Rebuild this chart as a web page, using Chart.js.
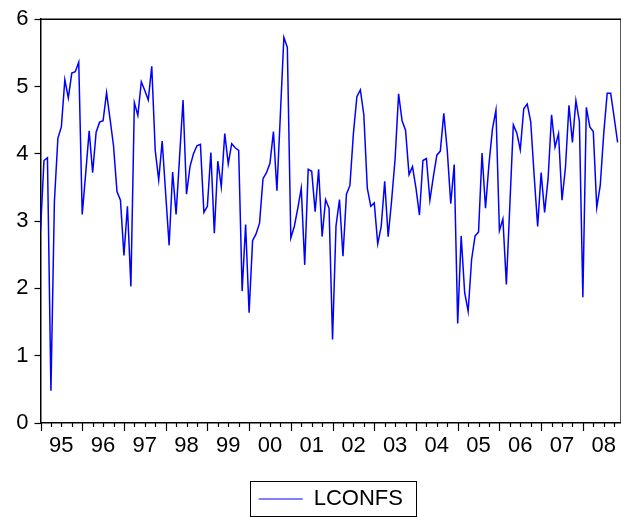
<!DOCTYPE html>
<html>
<head>
<meta charset="utf-8">
<script src="https://cdn.jsdelivr.net/npm/chart.js@4.4.0/dist/chart.umd.min.js"></script>
<style>
  html, body { margin: 0; padding: 0; overflow: hidden; background: #fff; }
  #wrap { width: 626px; height: 520px; }
</style>
</head>
<body>
<div id="wrap"><canvas id="chart" width="626" height="520"></canvas></div>
<script>
// monthly series, 1995M01 .. 2008M11
const yearLabels = ['95', '96', '97', '98', '99', '00', '01', '02', '03', '04', '05', '06', '07', '08'];
const yTicks = [0, 1, 2, 3, 4, 5, 6];
const seriesName = 'LCONFS';
const lconfs = [
  2.85, 3.90, 3.94, 0.48, 3.29, 4.23, 4.40, 5.10, 4.83, 5.20, 5.22, 5.36,
  3.10, 3.71, 4.34, 3.72, 4.32, 4.47, 4.49, 4.91, 4.52, 4.12, 3.44, 3.31,
  2.49, 3.22, 2.03, 4.76, 4.57, 5.07, 4.94, 4.80, 5.30, 4.05, 3.61, 4.19,
  3.41, 2.64, 3.73, 3.10, 3.95, 4.80, 3.40, 3.81, 4.00, 4.12, 4.14, 3.13,
  3.22, 4.02, 2.82, 3.89, 3.51, 4.30, 3.85, 4.15, 4.09, 4.05, 1.96, 2.95,
  1.64, 2.71, 2.81, 2.97, 3.63, 3.72, 3.86, 4.33, 3.45, 4.59, 5.73, 5.58,
  2.75, 2.92, 3.19, 3.49, 2.35, 3.77, 3.74, 3.14, 3.77, 2.77, 3.32, 3.19,
  1.24, 2.93, 3.32, 2.48, 3.40, 3.53, 4.30, 4.85, 4.95, 4.58, 3.49, 3.22,
  3.27, 2.66, 2.92, 3.59, 2.77, 3.31, 3.93, 4.89, 4.49, 4.35, 3.69, 3.81,
  3.49, 3.09, 3.90, 3.93, 3.31, 3.66, 3.98, 4.04, 4.60, 4.05, 3.26, 3.84,
  1.48, 2.78, 1.94, 1.66, 2.43, 2.78, 2.84, 4.01, 3.19, 3.85, 4.37, 4.65,
  2.86, 3.03, 2.06, 3.24, 4.43, 4.31, 4.06, 4.67, 4.74, 4.48, 3.67, 2.92,
  3.72, 3.13, 3.63, 4.58, 4.10, 4.30, 3.31, 3.80, 4.72, 4.17, 4.79, 4.48,
  1.87, 4.69, 4.40, 4.33, 3.20, 3.53, 4.30, 4.90, 4.90, 4.54, 4.17
];

const lastMonth = yearLabels.length * 12 - 1;
const font = { family: '"Liberation Sans", Arial, sans-serif', size: 22 };

// top/right frame, quarter ticks and the legend border
const framePlugin = {
  id: 'frame',
  afterDraw(chart) {
    const { ctx, chartArea: a } = chart;
    const x = chart.scales.x;
    ctx.save();
    ctx.strokeStyle = '#000';
    ctx.lineWidth = 1.5;
    ctx.beginPath();
    ctx.moveTo(a.left, a.top);
    ctx.lineTo(a.right, a.top);
    ctx.lineTo(a.right, a.bottom);
    ctx.stroke();

    ctx.lineWidth = 1.2;
    for (let m = 0; m <= lastMonth; m += 3) {
      const px = Math.round(x.getPixelForValue(m)) + 0.5;
      ctx.beginPath();
      ctx.moveTo(px, a.bottom);
      ctx.lineTo(px, a.bottom + (m % 12 === 0 ? 8 : 4));
      ctx.stroke();
    }

    const hb = chart.legend.legendHitBoxes[0];
    if (hb) {
      const cy = hb.top + hb.height / 2;
      ctx.lineWidth = 1;
      ctx.strokeRect(Math.round(hb.left - 9) + 0.5, Math.round(cy - 18) + 0.5,
        Math.round(hb.width + 22), 35);
    }
    ctx.restore();
  }
};

const ctx = document.getElementById('chart').getContext('2d');
const chart = new Chart(ctx, {
  type: 'line',
  data: {
    datasets: [{
      label: seriesName,
      data: lconfs.map((v, i) => ({ x: i, y: v })),
      borderColor: '#0000ff',
      backgroundColor: '#0000ff',
      borderWidth: 1.5,
      pointRadius: 0,
      tension: 0,
      fill: false
    }]
  },
  options: {
    responsive: false,
    animation: false,
    layout: { padding: { top: 16, right: 1.5, left: 0, bottom: 0 } },
    plugins: {
      tooltip: { enabled: false },
      legend: {
        position: 'bottom',
        fullSize: false,
        labels: {
          font: font,
          color: '#000',
          boxWidth: 44,
          boxHeight: 1,
          padding: 10,
          generateLabels: () => [{
            text: seriesName,
            fillStyle: '#0000ff',
            strokeStyle: '#0000ff',
            lineWidth: 0,
            hidden: false,
            datasetIndex: 0
          }]
        }
      }
    },
    scales: {
      x: {
        type: 'linear',
        min: 0,
        max: lastMonth,
        afterFit: s => { s.height = 55; },
        afterBuildTicks: s => {
          s.ticks = yearLabels.map((_, i) => ({ value: i * 12 + 6 }));
        },
        ticks: {
          autoSkip: false,
          maxRotation: 0,
          padding: 10,
          color: '#000',
          font: font,
          callback: v => yearLabels[(v - 6) / 12]
        },
        grid: { drawOnChartArea: false, drawTicks: false },
        border: { display: true, color: '#000', width: 1.5 }
      },
      y: {
        min: 0,
        max: 6,
        afterFit: s => { s.width = 40.5; },
        afterBuildTicks: s => { s.ticks = yTicks.map(v => ({ value: v })); },
        ticks: { padding: 6, color: '#000', font: font },
        grid: { drawOnChartArea: false, tickLength: 6, tickColor: '#000', tickWidth: 1.2 },
        border: { display: true, color: '#000', width: 1.5 }
      }
    }
  },
  plugins: [framePlugin]
});
</script>
</body>
</html>
